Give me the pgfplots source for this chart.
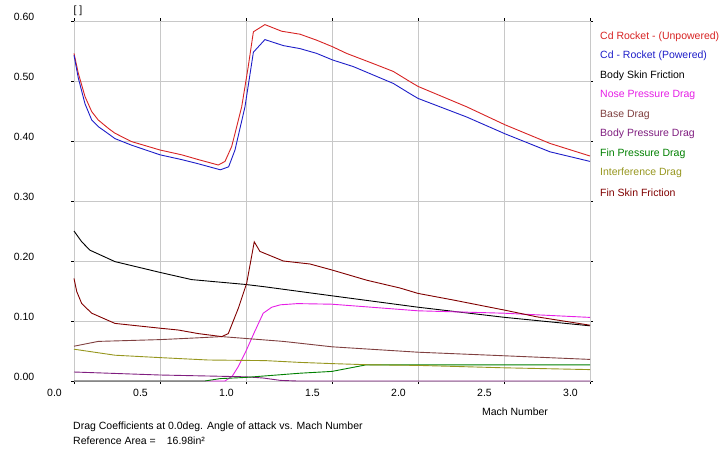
\documentclass[border=0pt]{standalone}
\usepackage{pgfplots}
\pgfplotsset{compat=1.18}
\usepackage{fontspec}
\setmainfont{Liberation Sans}
\definecolor{cdred}{RGB}{215,35,35}
\definecolor{cdblue}{RGB}{30,30,200}
\definecolor{nosemag}{RGB}{230,30,230}
\definecolor{basebrown}{RGB}{128,64,64}
\definecolor{bodypurple}{RGB}{128,30,128}
\definecolor{fingreen}{RGB}{0,128,0}
\definecolor{intolive}{RGB}{150,150,30}
\definecolor{finskin}{RGB}{128,0,0}
\definecolor{gridgray}{RGB}{200,200,200}
\newcommand{\lbl}{\fontsize{10.5}{12}\selectfont}
\begin{document}
\begin{tikzpicture}
\useasboundingbox (0pt,0pt) rectangle (719pt,451pt);
\begin{axis}[
  at={(74pt,70pt)}, anchor=south west,
  scale only axis, width=516pt, height=360pt,
  xmin=0, xmax=3, ymin=0, ymax=0.6,
  xtick={0,0.5,1,1.5,2,2.5,3},
  ytick={0,0.1,0.2,0.3,0.4,0.5,0.6},
  grid=major,
  major grid style={color=gridgray, line width=0.9pt},
  axis line style={gridgray, line width=0.9pt},
  tick align=outside, major tick length=3pt,
  tick style={black, line width=0.8pt},
  /pgf/number format/assume math mode=true,
  xticklabel style={font=\lbl, anchor=center, xshift=-19.5pt, yshift=-9pt,
     /pgf/number format/.cd, fixed, fixed zerofill, precision=1},
  yticklabel style={font=\lbl, anchor=center, xshift=-47pt, yshift=4pt,
     /pgf/number format/.cd, fixed, fixed zerofill, precision=2},
  no markers,
  every axis plot/.append style={line width=0.9pt},
  clip=false,
]
% Cd Rocket (Unpowered)
\addplot[cdred] coordinates {
(0.0,0.546)(0.025,0.513)(0.064,0.474)(0.103,0.449)(0.141,0.435)(0.2,0.421)
(0.238,0.413)(0.335,0.399)(0.5,0.385)(0.626,0.377)(0.723,0.369)(0.839,0.360)
(0.878,0.366)(0.917,0.391)(0.975,0.457)(1.013,0.524)(1.043,0.582)(1.11,0.594)
(1.207,0.583)(1.314,0.578)(1.411,0.568)(1.504,0.557)(1.585,0.546)(1.740,0.529)
(1.856,0.516)(1.953,0.499)(2.0,0.491)(2.283,0.457)(2.506,0.427)(2.767,0.396)(3.0,0.375)};
% Cd Rocket (Powered)
\addplot[cdblue] coordinates {
(0.0,0.543)(0.025,0.505)(0.064,0.462)(0.103,0.435)(0.141,0.424)(0.2,0.412)
(0.238,0.404)(0.335,0.393)(0.5,0.377)(0.626,0.369)(0.723,0.362)(0.851,0.352)
(0.899,0.357)(0.936,0.385)(0.994,0.457)(1.043,0.548)(1.11,0.569)(1.217,0.559)
(1.314,0.554)(1.411,0.546)(1.504,0.535)(1.624,0.524)(1.740,0.510)(1.856,0.496)
(1.953,0.479)(2.0,0.471)(2.283,0.440)(2.506,0.412)(2.767,0.382)(3.0,0.366)};
% Body Skin Friction
\addplot[black] coordinates {
(0.0,0.250)(0.045,0.232)(0.093,0.218)(0.238,0.199)(0.5,0.181)(0.684,0.169)
(0.994,0.161)(1.11,0.157)(1.5,0.142)(2.0,0.123)(2.506,0.106)(3.0,0.092)};
% Nose Pressure Drag
\addplot[nosemag] coordinates {
(0.0,0.0)(0.878,0.0)(0.92,0.008)(0.955,0.024)(1.0,0.050)(1.05,0.082)(1.1,0.113)
(1.15,0.123)(1.2,0.127)(1.3,0.129)(1.5,0.128)(2.0,0.117)(2.5,0.113)(3.0,0.106)};
% Base Drag
\addplot[basebrown] coordinates {
(0.0,0.058)(0.141,0.066)(0.5,0.069)(0.723,0.072)(0.859,0.074)(0.994,0.071)
(1.217,0.066)(1.5,0.057)(2.0,0.048)(2.506,0.042)(3.0,0.036)};
% Body Pressure Drag
\addplot[bodypurple] coordinates {
(0.0,0.015)(0.5,0.010)(1.0,0.007)(1.1,0.005)(1.2,0.001)(1.3,0.0)(3.0,0.0)};
% Fin Pressure Drag
\addplot[fingreen] coordinates {
(0.0,0.0)(0.76,0.0)(0.85,0.004)(1.0,0.006)(1.314,0.013)(1.5,0.016)(1.70,0.027)(3.0,0.027)};
% Interference Drag
\addplot[intolive] coordinates {
(0.0,0.053)(0.238,0.043)(0.5,0.039)(0.78,0.035)(1.11,0.034)(1.314,0.031)(1.5,0.029)
(1.72,0.027)(2.0,0.026)(2.5,0.022)(3.0,0.019)};
% Fin Skin Friction
\addplot[finskin] coordinates {
(0.0,0.171)(0.016,0.149)(0.045,0.129)(0.103,0.113)(0.238,0.096)(0.5,0.088)
(0.606,0.085)(0.723,0.079)(0.859,0.074)(0.897,0.079)(0.955,0.121)(1.004,0.163)
(1.048,0.232)(1.081,0.216)(1.217,0.200)(1.372,0.195)(1.5,0.185)(1.702,0.168)
(1.895,0.155)(2.0,0.146)(2.205,0.135)(2.506,0.118)(2.69,0.107)(3.0,0.093)};
\end{axis}
\begin{scope}[every node/.style={inner sep=0pt, font=\lbl}]
\node[anchor=west, text=cdred] at (600pt,414.5pt) {Cd Rocket - (Unpowered)};
\node[anchor=west, text=cdblue] at (600pt,395pt) {Cd - Rocket (Powered)};
\node[anchor=west, text=black] at (600pt,375.5pt) {Body Skin Friction};
\node[anchor=west, text=nosemag] at (600pt,356pt) {Nose Pressure Drag};
\node[anchor=west, text=basebrown] at (600pt,336.5pt) {Base Drag};
\node[anchor=west, text=bodypurple] at (600pt,317pt) {Body Pressure Drag};
\node[anchor=west, text=fingreen] at (600pt,297.5pt) {Fin Pressure Drag};
\node[anchor=west, text=intolive] at (600pt,278pt) {Interference Drag};
\node[anchor=west, text=finskin] at (600pt,258.5pt) {Fin Skin Friction};
\node at (78pt,440.5pt) {[ ]};
\node at (515pt,39pt) {Mach Number};
\node[anchor=west] at (73pt,24pt) {Drag Coefficients at 0.0deg. Angle of attack vs. Mach Number};
\node[anchor=west] at (73pt,10pt) {Reference Area =};
\node[anchor=west] at (166.7pt,10pt) {16.98in²};
\end{scope}
\end{tikzpicture}
\end{document}
